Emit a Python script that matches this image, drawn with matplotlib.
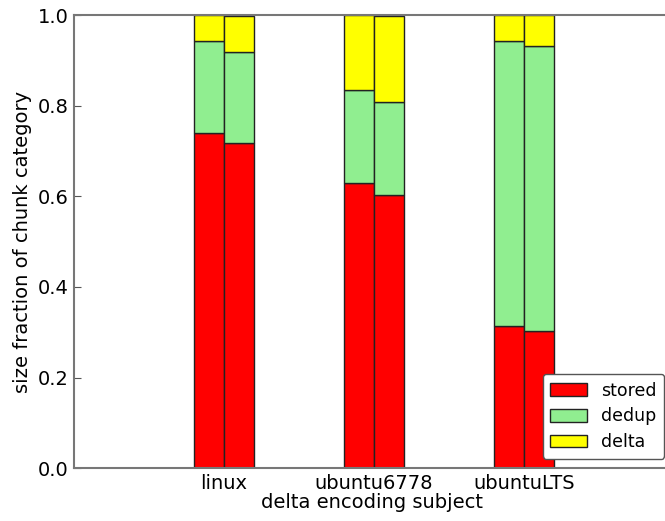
import numpy as np
import matplotlib.pyplot as plt

subjects = ['linux', 'ubuntu6778', 'ubuntuLTS']
# two runs per subject
stored = [[0.740, 0.718], [0.630, 0.603], [0.313, 0.302]]
dedup = [[0.203, 0.202], [0.205, 0.205], [0.630, 0.630]]
delta = [[0.057, 0.080], [0.165, 0.192], [0.057, 0.068]]

stored = np.array(stored)
dedup = np.array(dedup)
delta = np.array(delta)

fig = plt.figure(figsize=(6.65, 5.21), dpi=100)
# the original figure is cropped on the right, so the axes run past the edge
ax = fig.add_axes([74 / 665, 53 / 521, 700 / 665, 452.5 / 521])

x = np.arange(len(subjects))
w = 0.2
kw = dict(width=w, edgecolor='#222222', linewidth=1.0)
for j, off in enumerate([-w / 2, w / 2]):
    pos = x + off
    ax.bar(pos, stored[:, j], color='red', label='stored' if j == 0 else None, **kw)
    ax.bar(pos, dedup[:, j], bottom=stored[:, j], color='lightgreen',
           label='dedup' if j == 0 else None, **kw)
    ax.bar(pos, delta[:, j], bottom=stored[:, j] + dedup[:, j], color='yellow',
           label='delta' if j == 0 else None, **kw)

ax.set_xlim(-1, -1 + 700 / 150)
ax.set_ylim(0, 1.0)
ax.set_xticks(x)
ax.set_xticklabels(subjects, fontsize=14)
ax.set_yticks(np.arange(0, 1.01, 0.2))
ax.set_yticklabels(['%.1f' % v for v in np.arange(0, 1.01, 0.2)], fontsize=14)
ax.tick_params(axis='x', length=0, pad=4)
ax.tick_params(axis='y', direction='in', length=5, color='#555555', pad=4)
for s in ax.spines.values():
    s.set_color('#777777')
    s.set_linewidth(1.5)
ax.spines['right'].set_visible(False)
ax.set_xlabel('delta encoding subject', fontsize=14, labelpad=0, x=(372 - 74) / 700)
ax.set_ylabel('size fraction of chunk category', fontsize=14)

leg = ax.legend(loc='lower right', bbox_to_anchor=((664 - 74) / 700, 0.02),
                borderaxespad=0, fontsize=12.5, fancybox=True, framealpha=1,
                edgecolor='#555555', handlelength=2.1, handleheight=0.75,
                labelspacing=0.45, handletextpad=0.8, borderpad=0.45)

fig.savefig('out.png', dpi=100)
